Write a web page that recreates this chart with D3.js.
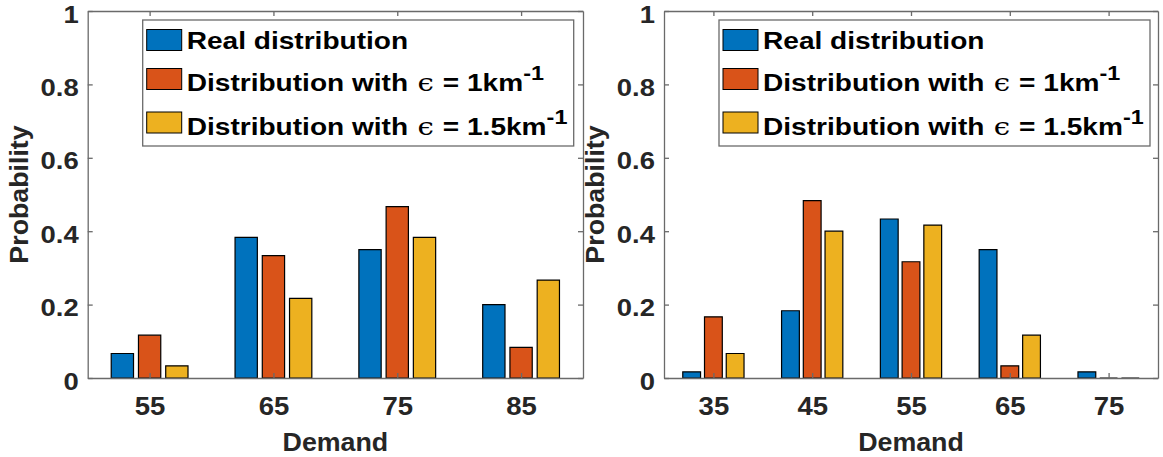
<!DOCTYPE html>
<html>
<head>
<meta charset="utf-8">
<script src="https://cdn.jsdelivr.net/npm/d3@7"></script>
<style>
  body { margin: 0; background: #fff; }
  svg text { font-family: "Liberation Sans", Arial, Helvetica, sans-serif; font-weight: bold; }
</style>
</head>
<body>
<div id="chart"></div>
<script>
// data
var seriesNames = ["Real distribution", "Distribution with", "Distribution with"];
var seriesEps = [null, "1", "1.5"];
var colors = ["#0072BD", "#D95319", "#EDB120"];
var yTicks = [0, 0.2, 0.4, 0.6, 0.8, 1];

var leftDemand = [55, 65, 75, 85];
var leftReal   = [0.0667, 0.3833, 0.35, 0.2];
var leftEps1   = [0.1167, 0.3333, 0.4667, 0.0833];
var leftEps15  = [0.0333, 0.2167, 0.3833, 0.2667];
var leftLimits = [50, 90];

var rightDemand = [35, 45, 55, 65, 75];
var rightReal   = [0.0167, 0.1833, 0.4333, 0.35, 0.0167];
var rightEps1   = [0.1667, 0.4833, 0.3167, 0.0333, 0];
var rightEps15  = [0.0667, 0.4, 0.4167, 0.1167, 0];
var rightLimits = [30, 80];

var W = 1163, H = 457;
var top0 = 11, bottom0 = 378;
var axisColor = "#6a6a6a", textColor = "#262626";

var svg = d3.select("#chart").append("svg")
    .attr("width", W)
    .attr("height", H);
svg.append("rect").attr("width", W).attr("height", H).attr("fill", "#fff");

var y = d3.scaleLinear().domain([0, 1]).range([bottom0, top0]);

// offsets of the three bars inside a group, in demand units
var sub = d3.scaleBand().domain([0, 1, 2]).range([-3.1, 3.1]).paddingInner(0.1818);

function panel(x0, x1, limits, demand, series) {
  var x = d3.scaleLinear().domain(limits).range([x0, x1]);
  var g = svg.append("g");

  series.forEach(function(vals, si) {
    g.selectAll(".bar" + si)
      .data(demand.map(function(d, i) { return {d: d, v: vals[i]}; }))
      .enter().append("path")
      .attr("d", function(o) {
        var bx = x(o.d + sub(si)), bw = x(o.d + sub(si) + sub.bandwidth()) - bx;
        var by = y(o.v), h = y(0) - by;
        return "M" + bx + "," + y(0) + "h" + bw + "v" + (-h) + "h" + (-bw) + "Z";
      })
      .attr("fill", colors[si])
      .attr("stroke", "#000")
      .attr("stroke-width", 1.2);
  });

  // axes, ticks pointing inward, box on
  var ax = g.append("g").attr("transform", "translate(0," + bottom0 + ")")
    .call(d3.axisBottom(x).tickValues(demand).tickSize(-5).tickSizeOuter(0));
  ax.selectAll("text")
    .attr("y", 37).attr("dy", null)
    .attr("transform", "scale(1.1,1)")
    .style("font-size", "25px").attr("fill", textColor);

  g.append("g").attr("transform", "translate(0," + top0 + ")")
    .call(d3.axisTop(x).tickValues(demand).tickSize(-5).tickSizeOuter(0).tickFormat(""));

  var ay = g.append("g").attr("transform", "translate(" + x0 + ",0)")
    .call(d3.axisLeft(y).tickValues(yTicks).tickSize(-5).tickSizeOuter(0).tickFormat(d3.format("")));
  ay.selectAll("text")
    .attr("x", null).attr("dy", "11px")
    .attr("transform", "translate(-9,0) scale(1.12,1)")
    .style("font-size", "24.5px").attr("fill", textColor);

  g.append("g").attr("transform", "translate(" + x1 + ",0)")
    .call(d3.axisRight(y).tickValues(yTicks).tickSize(-5).tickSizeOuter(0).tickFormat(""));

  g.selectAll(".domain, .tick line").attr("stroke", axisColor).attr("stroke-width", 1.3);

  // axis titles
  g.append("text")
    .attr("transform", "translate(" + ((x0 + x1) / 2) + ",451) scale(1.05,1)")
    .attr("text-anchor", "middle")
    .style("font-size", "25.5px").attr("fill", textColor)
    .text("Demand");
  g.append("text")
    .attr("transform", "translate(" + (x0 - 60) + "," + ((top0 + bottom0) / 2) + ") rotate(-90) scale(1.05,1)")
    .attr("text-anchor", "middle")
    .style("font-size", "25.5px").attr("fill", textColor)
    .text("Probability");

  // legend
  var lx = x0 + 55, ly = 20, lw = 431, lh = 126;
  var lg = g.append("g");
  lg.append("rect")
    .attr("x", lx).attr("y", ly).attr("width", lw).attr("height", lh)
    .attr("fill", "#fff").attr("stroke", axisColor).attr("stroke-width", 1.3);
  var rowMid = [40, 79, 122.5], rowBase = [49.3, 90.7, 135];
  seriesNames.forEach(function(name, i) {
    lg.append("rect")
      .attr("x", lx + 4).attr("y", rowMid[i] - 10.5)
      .attr("width", 35).attr("height", 21)
      .attr("fill", colors[i]).attr("stroke", "#000").attr("stroke-width", 1);
    var t = lg.append("text")
      .attr("transform", "translate(" + (lx + 44) + "," + rowBase[i] + ") scale(1.17,1)")
      .style("font-size", "24px").attr("fill", "#000");
    t.append("tspan").text(name);
    if (seriesEps[i]) {
      t.append("tspan").text("\u03F5").attr("dx", 8)
        .style("font-family", "'DejaVu Serif', serif").style("font-weight", "normal")
        .style("font-size", "25px");
      t.append("tspan").text(" = " + seriesEps[i] + "km").attr("dx", 1);
      t.append("tspan").text("-1").attr("dy", -11).style("font-size", "20px");
    }
  });
}

panel(87.7, 583, leftLimits, leftDemand, [leftReal, leftEps1, leftEps15]);
panel(664, 1158, rightLimits, rightDemand, [rightReal, rightEps1, rightEps15]);
</script>
</body>
</html>
